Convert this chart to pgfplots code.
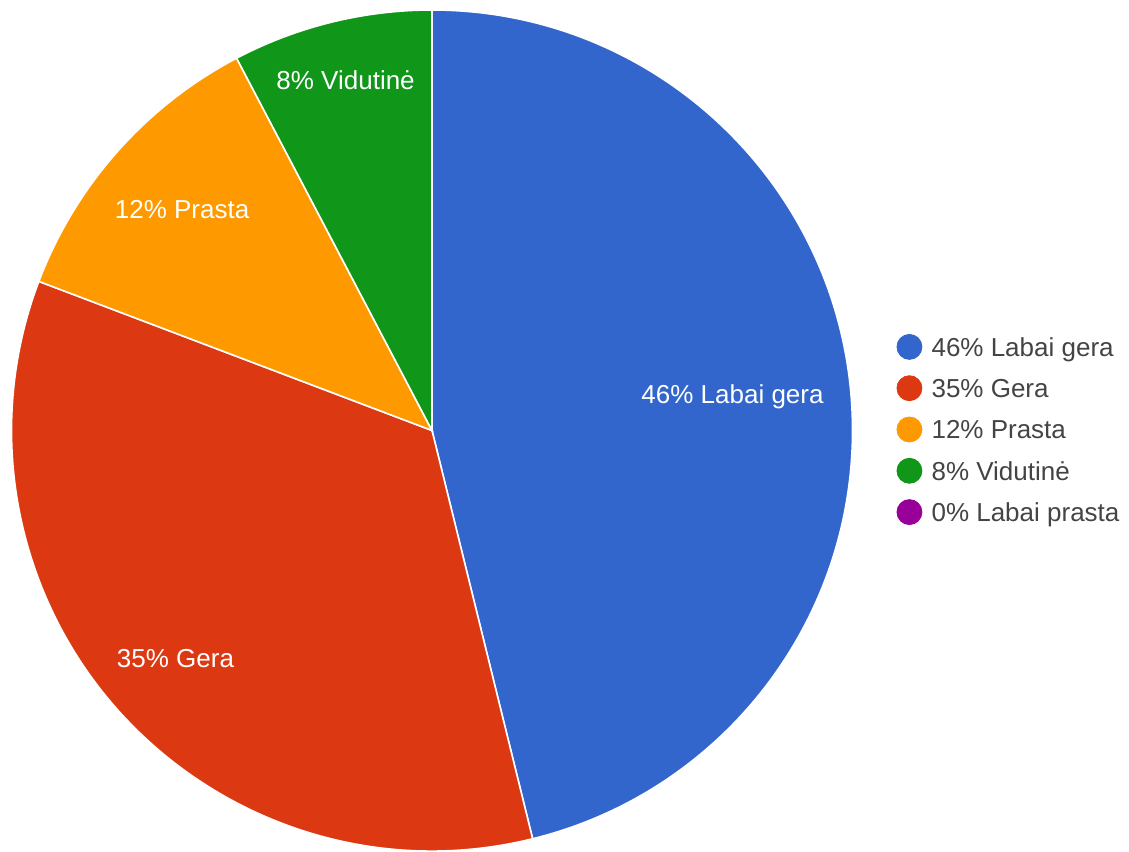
\documentclass[border=0pt]{standalone}
\usepackage{pgfplots}
\usepackage{pgfplotstable}
\usepackage{fontspec}
\setmainfont{Liberation Sans}
\pgfplotsset{compat=1.18}

\definecolor{col0}{HTML}{3366CC}
\definecolor{col1}{HTML}{DC3912}
\definecolor{col2}{HTML}{FF9900}
\definecolor{col3}{HTML}{109618}
\definecolor{col4}{HTML}{990099}
\definecolor{legtext}{HTML}{444444}

% answers (count of respondents), label radius as fraction of R
\pgfplotstableread[col sep=comma]{
name,count,lr
Labai gera,12,0.72
Gera,9,0.815
Prasta,3,0.794
Vidutinė,2,0.859
Labai prasta,0,0.8
}\piedata

\begin{document}
\begin{tikzpicture}
\def\cx{432}\def\cy{420.5}\def\R{420.5}
% totals and slice angles (clockwise from the top)
\def\total{0}
\pgfplotsforeachungrouped \i in {0,...,4}{%
  \pgfplotstablegetelem{\i}{count}\of\piedata
  \pgfmathsetmacro\total{\total+\pgfplotsretval}%
  \xdef\total{\total}}
\def\acc{0}
\pgfplotsforeachungrouped \i in {0,...,4}{%
  \pgfplotstablegetelem{\i}{count}\of\piedata
  \let\cnt\pgfplotsretval
  \pgfmathsetmacro\a{90-360*\acc/\total}%
  \pgfmathsetmacro\acc{\acc+\cnt}\xdef\acc{\acc}%
  \pgfmathsetmacro\b{90-360*\acc/\total}%
  \pgfmathtruncatemacro\p{round(100*\cnt/\total)}%
  \expandafter\xdef\csname sa\i\endcsname{\a}%
  \expandafter\xdef\csname sb\i\endcsname{\b}%
  \pgfmathsetmacro\m{(\a+\b)/2}%
  \expandafter\xdef\csname md\i\endcsname{\m}%
  \expandafter\xdef\csname pc\i\endcsname{\p}%
  \pgfplotstablegetelem{\i}{name}\of\piedata
  \expandafter\xdef\csname lb\i\endcsname{\pgfplotsretval}%
  \pgfplotstablegetelem{\i}{lr}\of\piedata
  \expandafter\xdef\csname lr\i\endcsname{\pgfplotsretval}%
}
\begin{axis}[
  hide axis,
  scale only axis,
  width=564.5pt, height=425.5pt,
  xmin=0, xmax=1129, ymin=0, ymax=851,
  clip=false,
  font=\fontsize{13}{15}\selectfont,
  legend image code/.code={\fill[#1] (0pt,0pt) circle[radius=6.25pt];},
  legend cell align=left,
  legend style={
    at={(0.7941,0.4953)}, anchor=west,
    draw=none, fill=none, inner sep=0pt, outer sep=0pt,
    row sep=7.75pt,
    text=legtext,
    font=\fontsize{13}{15}\selectfont,
    nodes={inner sep=0pt, text height=9.3pt, text depth=0pt},
    /tikz/every odd column/.append style={column sep=4.6pt},
  },
]
\coordinate (ll) at (axis cs:0,0);
\coordinate (ur) at (axis cs:1129,851);
\pgfplotsinvokeforeach{0,...,3}{
  \fill[col#1, draw=white, line width=0.8pt]
    (axis cs:\cx,\cy) --
    (axis cs:{\cx+\R*cos(\csname sa#1\endcsname)},{\cy+\R*sin(\csname sa#1\endcsname)})
    arc[start angle=\csname sa#1\endcsname, end angle=\csname sb#1\endcsname, radius=210.25pt]
    -- cycle;
}
\pgfplotsinvokeforeach{0,...,3}{
  \node[white, inner sep=0pt, text height=9.3pt, text depth=0pt, anchor=center]
    at (axis cs:{\cx+\csname lr#1\endcsname*\R*cos(\csname md#1\endcsname)},{\cy+\csname lr#1\endcsname*\R*sin(\csname md#1\endcsname)})
    {\csname pc#1\endcsname\% \csname lb#1\endcsname};
}
\pgfplotsinvokeforeach{0,...,4}{
  \addlegendimage{col#1}
  \addlegendentry{\csname pc#1\endcsname\% \csname lb#1\endcsname}
}
\end{axis}
\pgfresetboundingbox
\useasboundingbox (ll) rectangle (ur);
\end{tikzpicture}
\end{document}
